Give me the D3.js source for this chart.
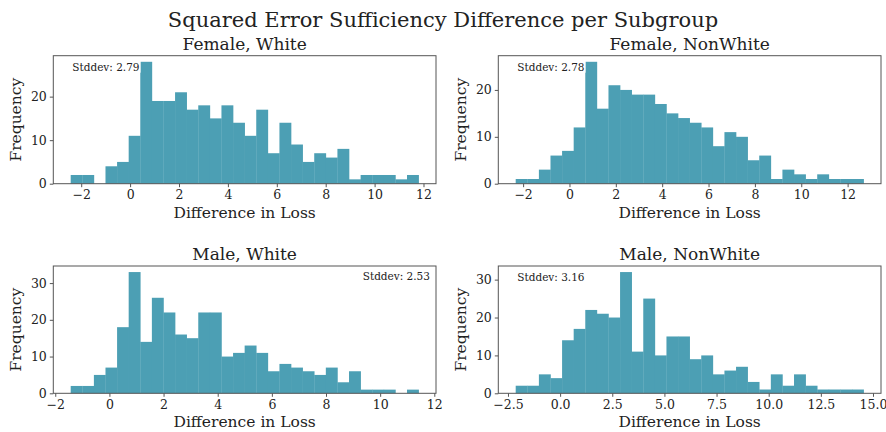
<!DOCTYPE html>
<html>
<head>
<meta charset="utf-8">
<script src="https://cdn.jsdelivr.net/npm/d3@7"></script>
<style>
body { margin: 0; background: #fff; }
svg text { font-family: "DejaVu Serif", serif; fill: #222; }
.tick line { stroke: #555; }
.domain { display: none; }
</style>
</head>
<body>
<div class="container"></div>
<script>
var titles = ['Female, White', 'Female, NonWhite', 'Male, White', 'Male, NonWhite'];
var stddevs = ['Stddev: 2.79', 'Stddev: 2.78', 'Stddev: 2.53', 'Stddev: 3.16'];

// 30 bins per panel, from min to max of the data
var binMin = [-2.43, -2.32, -1.43, -2.13];
var binMax = [11.80, 12.69, 11.42, 14.55];

var countsFW = [2,2,0,4,5,11,28,19,19,21,17,18,15,18,14,11,17,7,14,9,5,7,6,8,1,2,2,2,1,2];
var countsFN = [1,1,3,6,7,12,26,16,21,20,19,19,17,15,14,13,12,8,11,10,5,6,1,3,2,1,2,1,1,1];
var countsMW = [2,2,5,7,18,33,14,26,22,16,15,22,22,10,11,13,11,6,8,7,6,5,7,3,6,1,1,1,0,1];
var countsMN = [2,2,5,4,14,17,22,21,20,32,11,25,10,15,15,9,10,5,6,7,3,1,5,2,5,2,1,1,1,1];
var counts = [countsFW, countsFN, countsMW, countsMN];

var xTicks = [
  [-2, 0, 2, 4, 6, 8, 10, 12],
  [-2, 0, 2, 4, 6, 8, 10, 12],
  [-2, 0, 2, 4, 6, 8, 10, 12],
  [-2.5, 0, 2.5, 5, 7.5, 10, 12.5, 15]
];
var yTicks = [[0, 10, 20], [0, 10, 20], [0, 10, 20, 30], [0, 10, 20, 30]];

var W = 886, H = 432;
var pw = 382.7;
var lefts = [53.3, 498.3, 53.3, 498.3];
var tops = [55.7, 55.7, 266, 266];
var ph = [128, 128, 127.3, 127.3];

var svg = d3.select('.container')
.append('svg')
.attr('width', W)
.attr('height', H);

svg.append('text')
.attr('x', W / 2)
.attr('y', 27)
.attr('text-anchor', 'middle')
.style('font-size', '21px')
.text('Squared Error Sufficiency Difference per Subgroup');

for (var k = 0; k < 4; k++) {
  var data = counts[k];
  var bw = (binMax[k] - binMin[k]) / data.length;
  var pad = (binMax[k] - binMin[k]) * 0.05;
  var ymax = d3.max(data) * 1.05;

  var x = d3.scaleLinear()
  .domain([binMin[k] - pad, binMax[k] + pad])
  .range([0, pw]);

  var y = d3.scaleLinear()
  .domain([0, ymax])
  .range([ph[k], 0]);

  var g = svg.append('g')
  .attr('transform', 'translate(' + lefts[k] + ',' + tops[k] + ')');

  g.selectAll('rect.bar')
  .data(data)
  .enter()
  .append('rect')
  .attr('class', 'bar')
  .attr('x', (d, i) => x(binMin[k] + i * bw))
  .attr('width', (d, i) => x(binMin[k] + (i + 1) * bw) - x(binMin[k] + i * bw) + 0.3)
  .attr('y', d => y(d))
  .attr('height', d => ph[k] - y(d))
  .style('fill', '#4c9fb4');

  var fmt = k == 3 ? d3.format('.1f') : d3.format('d');

  g.append('g')
  .attr('transform', 'translate(0,' + ph[k] + ')')
  .call(d3.axisBottom(x).tickValues(xTicks[k]).tickSize(3.5).tickPadding(3).tickFormat(d => fmt(d).replace('-', '\u2212')))
  .selectAll('text').style('font-size', '12.5px');

  g.append('g')
  .call(d3.axisLeft(y).tickValues(yTicks[k]).tickSize(3.5).tickPadding(3))
  .selectAll('text').style('font-size', '12.5px');

  g.append('rect')
  .attr('width', pw)
  .attr('height', ph[k])
  .style('fill', 'none')
  .style('stroke', '#555')
  .style('stroke-width', 1);

  g.append('text')
  .attr('x', pw / 2)
  .attr('y', -6)
  .attr('text-anchor', 'middle')
  .style('font-size', '17px')
  .text(titles[k]);

  g.append('text')
  .attr('x', pw / 2)
  .attr('y', ph[k] + 34)
  .attr('text-anchor', 'middle')
  .style('font-size', '15.5px')
  .text('Difference in Loss');

  g.append('text')
  .attr('transform', 'rotate(-90)')
  .attr('x', -ph[k] / 2)
  .attr('y', -32)
  .attr('text-anchor', 'middle')
  .style('font-size', '15.5px')
  .text('Frequency');

  var right = k == 2;
  var st = g.append('text')
  .attr('x', right ? pw - 6 : 19)
  .attr('y', right ? 14 : 15)
  .attr('text-anchor', right ? 'end' : 'start')
  .style('font-size', '10.5px')
  .text(stddevs[k]);
  var bb = st.node().getBBox();
  g.insert('rect', function() { return st.node(); })
  .attr('x', bb.x - 1)
  .attr('y', bb.y)
  .attr('width', bb.width + 2)
  .attr('height', bb.height)
  .style('fill', '#fff');
}
</script>
</body>
</html>
